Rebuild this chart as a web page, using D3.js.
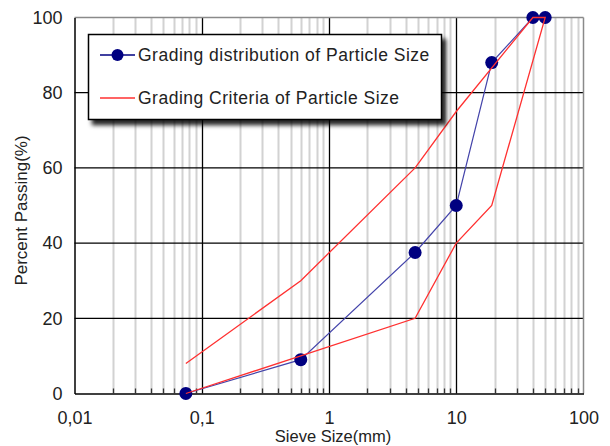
<!DOCTYPE html>
<html><head><meta charset="utf-8">
<script src="https://cdn.jsdelivr.net/npm/d3@7"></script>
<style>html,body{margin:0;padding:0;background:#fff;}svg{display:block;}</style>
</head><body>
<svg id="chart" width="610" height="446"></svg>
<script>
// ---- data ----
const sieveSizes = [0.075, 0.6, 4.75, 10, 19, 40, 50];
const percentPassing = [0, 9, 37.5, 50, 88, 100, 100];
const upperSizes = [0.075, 0.6, 4.75, 10, 40];
const upperLimit = [8, 30, 60, 75, 100];
const lowerSizes = [50, 19, 10, 4.75, 0.6, 0.075];
const lowerLimit = [100, 50, 40, 20, 10, 0];
const xTickValues = [0.01, 0.1, 1, 10, 100];
const xTickLabels = ["0,01", "0,1", "1", "10", "100"];
const yTickValues = [0, 20, 40, 60, 80, 100];
const seriesNames = ["Grading distribution of Particle Size", "Grading Criteria of Particle Size"];

const svg = d3.select("#chart");
const font = "'Liberation Sans', Arial, sans-serif";
const x = d3.scaleLog().domain([0.01, 100]).range([74.5, 583.5]);
const y = d3.scaleLinear().domain([0, 100]).range([393.5, 17.5]);

// minor values
const minor = [];
[0.01, 0.1, 1, 10].forEach(d => { for (let k = 2; k <= 9; k++) minor.push(+(d * k).toPrecision(3)); });

const defs = svg.append("defs");
const f = defs.append("filter").attr("id", "shadow").attr("x", "-10%").attr("y", "-20%").attr("width", "130%").attr("height", "160%");
f.append("feDropShadow").attr("dx", 4).attr("dy", 5).attr("stdDeviation", 2).attr("flood-color", "#000").attr("flood-opacity", 0.85);

const g = svg.append("g");
// minor vertical grid
g.selectAll(".minor").data(minor).join("line")
  .attr("x1", d => Math.round(x(d)) + 0.5).attr("x2", d => Math.round(x(d)) + 0.5)
  .attr("y1", y(100)).attr("y2", y(0))
  .attr("stroke", "#d2d2d2").attr("stroke-width", 2);
// major vertical grid
g.selectAll(".majv").data(xTickValues.slice(1, -1)).join("line")
  .attr("x1", d => Math.round(x(d)) + 0.5).attr("x2", d => Math.round(x(d)) + 0.5)
  .attr("y1", y(100)).attr("y2", y(0))
  .attr("stroke", "#000").attr("stroke-width", 1.3);
// horizontal grid
g.selectAll(".majh").data(yTickValues.slice(1, -1)).join("line")
  .attr("x1", x(0.01)).attr("x2", x(100))
  .attr("y1", d => y(d)).attr("y2", d => y(d))
  .attr("stroke", "#000").attr("stroke-width", 1.3);
// top & right border (grey)
g.append("line").attr("x1", x(0.01)).attr("x2", x(100)).attr("y1", y(100)).attr("y2", y(100)).attr("stroke", "#8a8a8a").attr("stroke-width", 1.5);
g.append("line").attr("x1", x(100)).attr("x2", x(100)).attr("y1", y(100)).attr("y2", y(0)).attr("stroke", "#8a8a8a").attr("stroke-width", 1.5);

// axes
const xAxis = d3.axisBottom(x).tickValues(xTickValues).tickFormat((d, i) => xTickLabels[i]).tickSize(0).tickPadding(18);
const xg = svg.append("g").attr("transform", `translate(0,${y(0)})`).call(xAxis);
xg.select(".domain").attr("stroke", "#000").attr("stroke-width", 1.5);
xg.selectAll("text").attr("font-family", font).attr("font-size", 18).attr("fill", "#222");
// minor ticks (inward)
svg.append("g").selectAll("line").data(minor).join("line")
  .attr("x1", d => Math.round(x(d)) + 0.5).attr("x2", d => Math.round(x(d)) + 0.5)
  .attr("y1", y(0)).attr("y2", y(0) - 5).attr("stroke", "#333").attr("stroke-width", 1.3);

const yAxis = d3.axisLeft(y).tickValues(yTickValues).tickSize(0).tickPadding(12);
const yg = svg.append("g").attr("transform", `translate(${x(0.01)},0)`).call(yAxis);
yg.select(".domain").attr("stroke", "#000").attr("stroke-width", 1.5);
yg.selectAll("text").attr("font-family", font).attr("font-size", 18).attr("fill", "#222");

// axis titles
svg.append("text").attr("x", (x(0.01) + x(100)) / 2 + 4).attr("y", 442)
  .attr("text-anchor", "middle").attr("font-family", font).attr("font-size", 16.5).attr("fill", "#222")
  .text("Sieve Size(mm)");
svg.append("text").attr("transform", `translate(27,${(y(0) + y(100)) / 2 + 5}) rotate(-90)`)
  .attr("text-anchor", "middle").attr("font-family", font).attr("font-size", 17).attr("fill", "#222")
  .text("Percent Passing(%)");

// criteria line (red)
const critPts = upperSizes.map((s, i) => [s, upperLimit[i]]).concat(lowerSizes.map((s, i) => [s, lowerLimit[i]]));
const line = d3.line().x(d => x(d[0])).y(d => y(d[1]));
// distribution (blue)
const distPts = sieveSizes.map((s, i) => [s, percentPassing[i]]);
svg.append("path").attr("d", line(distPts)).attr("fill", "none").attr("stroke", "#4444aa").attr("stroke-width", 1.2);
svg.selectAll(".pt").data(distPts).join("circle")
  .attr("cx", d => x(d[0])).attr("cy", d => y(d[1])).attr("r", 6.5).attr("fill", "#000080");
svg.append("path").attr("d", line(critPts)).attr("fill", "none").attr("stroke", "#ff3030").attr("stroke-width", 1.3);

// legend
const lg = svg.append("g");
lg.append("rect").attr("x", 88.5).attr("y", 34.5).attr("width", 353).attr("height", 85)
  .attr("fill", "#fff").attr("stroke", "#000").attr("stroke-width", 1.5).attr("filter", "url(#shadow)");
const rows = [{ y: 55, color: "#000080", marker: true }, { y: 98, color: "#ff3030", marker: false }];
rows.forEach((r, i) => {
  lg.append("line").attr("x1", 100).attr("x2", 135).attr("y1", r.y).attr("y2", r.y).attr("stroke", r.color).attr("stroke-width", 1.3);
  if (r.marker) lg.append("circle").attr("cx", 117.5).attr("cy", r.y).attr("r", 6).attr("fill", "#000080");
  lg.append("text").attr("x", 138).attr("y", r.y + 6).attr("font-family", font).attr("font-size", 17.5)
    .attr("letter-spacing", 0.5).attr("fill", "#222").text(seriesNames[i]);
});
</script>
</body></html>
